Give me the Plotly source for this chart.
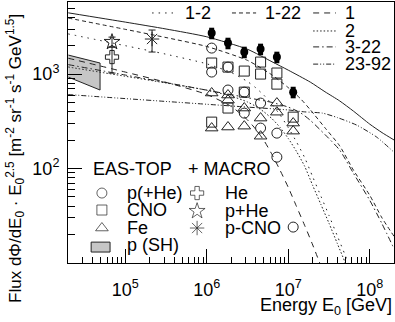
import plotly.graph_objects as go

# model curves (log10 E/GeV, flux * E^2.5)
lg_e_p = [4.3, 5.0, 5.5, 6.0, 6.3, 6.5, 6.6, 6.7, 6.8, 6.9, 7.0, 7.1, 7.2, 7.3, 7.4]
flux_p = [1472, 1050, 818, 608, 454, 327, 261, 199, 141, 95.5, 63.1, 39.8, 25.1, 15.5, 9.3]

lg_e_he = [4.3, 5.0, 5.5, 6.0, 6.3, 6.5, 6.6, 6.7, 6.8, 6.9, 7.0, 7.1, 7.2, 7.3, 7.4, 7.5, 7.6, 7.7, 7.8]
flux_he = [1189, 948, 805, 675, 585, 506, 456, 399, 337, 272, 208, 152, 106, 66, 41.7, 26.3, 16.2, 10, 6]

lg_e_12 = [4.3, 5.0, 5.5, 6.0, 6.3, 6.5, 6.6, 6.7, 6.8, 6.9, 7.0, 7.1, 7.2, 7.3, 7.4, 7.5, 7.6, 7.7, 7.8]
flux_12 = [2661, 1998, 1623, 1283, 1039, 833, 717, 598, 478, 368, 271, 192, 131, 81.5, 51, 31.8, 19.5, 12, 7.2]

lg_e_322 = [4.3, 5.0, 5.5, 6.0, 6.5, 6.8, 7.0, 7.15, 7.27, 7.45, 7.63, 7.8, 8.0, 8.15, 8.3]
flux_322 = [1259, 977, 813, 676, 562, 501, 447, 389, 324, 229, 157, 89, 46, 26, 14]

lg_e_122 = [4.3, 5.0, 5.5, 6.0, 6.5, 6.8, 7.0, 7.15, 7.27, 7.45, 7.63, 7.8, 8.0, 8.15, 8.3]
flux_122 = [3920, 2975, 2436, 1959, 1395, 979, 718, 549, 419, 270, 174, 96, 52, 30, 19]

lg_e_2392 = [4.3, 5.0, 5.5, 6.0, 6.5, 7.0, 7.2, 7.42, 7.6, 7.84, 8.085, 8.3]
flux_2392 = [607, 550, 513, 479, 447, 417, 398, 386, 347, 288, 215, 148]

lg_e_all = [4.3, 5.0, 5.5, 6.0, 6.5, 6.8, 7.0, 7.27, 7.45, 7.63, 7.8, 8.0, 8.15, 8.3]
flux_all = [4450, 3550, 3000, 2480, 1830, 1350, 1100, 822, 650, 520, 405, 295, 240, 200]

# EAS-TOP points
lg_e_eas = [6.06, 6.26, 6.46, 6.66, 6.86, 7.06]
eas_all = [2716, 2128, 1710, 1841, 1514, 644]
eas_p_e = [6.06, 6.06, 6.26, 6.26, 6.46, 6.46, 6.66, 6.66, 6.86, 6.86, 7.06]
eas_p = [1884, 1050, 1186, 678, 644, 386, 493, 268, 237, 132, 24]
eas_cno_e = [6.06, 6.06, 6.26, 6.26, 6.46, 6.46, 6.66, 6.66, 6.86, 6.86, 7.06]
eas_cno = [1309, 310, 1186, 437, 1076, 644, 1340, 1000, 1026, 783, 350]
eas_fe_e = [6.06, 6.06, 6.26, 6.26, 6.26, 6.46, 6.46, 6.66, 6.66, 6.86, 6.86, 7.06, 7.06]
eas_fe = [630, 268, 600, 531, 275, 437, 281, 342, 220, 493, 395, 303, 249]

# MACRO points
macro_he_e, macro_he, macro_he_up, macro_he_dn = 6.87e4, 1514, 418, 490
macro_phe_e, macro_phe, macro_phe_up, macro_phe_dn = 6.87e4, 2183, 280, 251
macro_pcno_e, macro_pcno, macro_pcno_up, macro_pcno_dn = 2.13e5, 2350, 577, 639

# p (SH) band
band_e = [2.0e4, 4.9e4, 4.9e4, 2.0e4]
band_flux = [1589, 1309, 678, 929]

FONT = "Liberation Sans, Arial, sans-serif"
INK = "#222"

fig = go.Figure()

fig.add_trace(go.Scatter(x=band_e, y=band_flux, fill="toself", fillcolor="#c6c6c6",
                         mode="lines", line=dict(color=INK, width=1)))

curves = [
    (lg_e_all, flux_all, "solid"),
    (lg_e_12, flux_12, "1.5px,5px"),
    (lg_e_122, flux_122, "4px,3px"),
    (lg_e_p, flux_p, "6px,5px"),
    (lg_e_he, flux_he, "1.5px,2px"),
    (lg_e_322, flux_322, "6px,3px,1.5px,3px"),
    (lg_e_2392, flux_2392, "5px,2px,1px,2px,1px,2px"),
]
for lg, fl, dash in curves:
    fig.add_trace(go.Scatter(x=[10 ** v for v in lg], y=fl, mode="lines",
                             line=dict(color=INK, width=1, dash=dash, shape="spline", smoothing=0.6)))

fig.add_trace(go.Scatter(x=[10 ** v for v in lg_e_eas], y=eas_all, mode="markers",
                         marker=dict(symbol="circle", size=8, color="black"),
                         error_y=dict(type="percent", value=14, thickness=5, width=0, color="black")))
for lg, fl, sym, sz in [(eas_p_e, eas_p, "circle-open", 10),
                        (eas_cno_e, eas_cno, "square-open", 10),
                        (eas_fe_e, eas_fe, "triangle-up-open", 11)]:
    fig.add_trace(go.Scatter(x=[10 ** v for v in lg], y=fl, mode="markers",
                             marker=dict(symbol=sym, size=sz, color=INK, line=dict(width=1))))

for e, f, up, dn, sym, sz in [(macro_he_e, macro_he, macro_he_up, macro_he_dn, "cross-open", 11),
                              (macro_phe_e, macro_phe, macro_phe_up, macro_phe_dn, "star-open", 12),
                              (macro_pcno_e, macro_pcno, macro_pcno_up, macro_pcno_dn, "asterisk-open", 12)]:
    fig.add_trace(go.Scatter(x=[e], y=[f], mode="markers",
                             marker=dict(symbol=sym, size=sz, color=INK, line=dict(width=1)),
                             error_y=dict(type="data", array=[up], arrayminus=[dn],
                                          thickness=1, width=3.5, color=INK)))

# legend keys on an overlay axis in plot fractions
fig.add_trace(go.Scatter(x=[0.104, 0.104, 0.104, 0.396, 0.396, 0.396],
                         y=[0.268, 0.203, 0.134, 0.268, 0.199, 0.134],
                         xaxis="x2", yaxis="y2", mode="markers",
                         marker=dict(symbol=["circle-open", "square-open", "triangle-up-open",
                                             "cross-open", "star-open", "asterisk-open"],
                                     size=[10, 10, 11, 11, 12, 12], color=INK, line=dict(width=1))))

shapes = [dict(type="rect", xref="paper", yref="paper", x0=0.071, x1=0.129, y0=0.042, y1=0.080,
               fillcolor="#c6c6c6", line=dict(color=INK, width=1))]
line_keys = [(0.258, 0.322, 0.958, "1.5px,5px"), (0.503, 0.577, 0.958, "4px,3px"),
             (0.752, 0.822, 0.958, "6px,5px"), (0.752, 0.822, 0.889, "1.5px,2px"),
             (0.752, 0.822, 0.828, "6px,3px,1.5px,3px"), (0.752, 0.822, 0.762, "5px,2px,1px,2px,1px,2px")]
for x0, x1, y, dash in line_keys:
    shapes.append(dict(type="line", xref="paper", yref="paper", x0=x0, x1=x1, y0=y, y1=y,
                       line=dict(color=INK, width=1, dash=dash)))

labels = [(0.359, 0.958, "1-2"), (0.604, 0.958, "1-22"), (0.850, 0.958, "1"), (0.850, 0.889, "2"),
          (0.850, 0.828, "3-22"), (0.850, 0.762, "23-92"),
          (0.077, 0.360, "EAS-TOP"), (0.181, 0.268, "p(+He)"), (0.181, 0.203, "CNO"),
          (0.181, 0.134, "Fe"), (0.181, 0.069, "p (SH)"), (0.368, 0.360, "+ MACRO"),
          (0.482, 0.268, "He"), (0.482, 0.199, "p+He"), (0.482, 0.134, "p-CNO")]
annotations = [dict(x=x, y=y, xref="paper", yref="paper", text=t, showarrow=False,
                    xanchor="left", yanchor="middle", xshift=-2, font=dict(size=18, color="black"))
               for x, y, t in labels]
annotations.append(dict(x=1.0, y=-0.165, xref="paper", yref="paper", showarrow=False,
                        text="Energy E<sub>0</sub> [GeV]", xanchor="right", yanchor="middle",
                        font=dict(size=18, color="black")))
annotations.append(dict(x=-0.163, y=0.402, xref="paper", yref="paper", showarrow=False, textangle=-90,
                        text="Flux dΦ/dE<sub>0</sub> · E<sub>0</sub><sup>2.5</sup> [m<sup>-2</sup> sr<sup>-1</sup> s<sup>-1</sup> GeV<sup>1.5</sup>]",
                        xanchor="center", yanchor="middle", font=dict(size=17, color="black")))

x_minor = [m * 10 ** k for k in range(4, 9) for m in range(2, 10) if 2e4 <= m * 10 ** k <= 1.98e8]
y_minor = [m * 10 ** k for k in range(1, 4) for m in range(2, 10) if m * 10 ** k <= 5800]

fig.update_layout(
    template="none",
    width=395, height=322, showlegend=False,
    margin=dict(l=68, r=1, t=2, b=59, autoexpand=False),
    paper_bgcolor="white", plot_bgcolor="white",
    font=dict(family=FONT, color="black"),
    shapes=shapes, annotations=annotations,
    xaxis=dict(type="log", range=[4.297, 8.297], showgrid=False, zeroline=False, automargin=False,
               showline=True, linecolor="black", linewidth=1, mirror=True,
               ticks="inside", ticklen=14, tickcolor="black",
               tickvals=[1e5, 1e6, 1e7, 1e8],
               ticktext=["10<sup>5</sup>", "10<sup>6</sup>", "10<sup>7</sup>", "10<sup>8</sup>"],
               tickfont=dict(size=18), ticklabelstandoff=10,
               minor=dict(tickvals=x_minor, ticks="inside", ticklen=6, tickcolor="black")),
    yaxis=dict(type="log", range=[1, 3.763], showgrid=False, zeroline=False, automargin=False,
               showline=True, linecolor="black", linewidth=1, mirror=True,
               ticks="inside", ticklen=14, tickcolor="black",
               tickvals=[100, 1000], ticktext=["10<sup>2</sup>", "10<sup>3</sup>"],
               tickfont=dict(size=18), ticklabelstandoff=4,
               minor=dict(tickvals=y_minor, ticks="inside", ticklen=7, tickcolor="black")),
    xaxis2=dict(overlaying="x", anchor="y2", range=[0, 1], visible=False),
    yaxis2=dict(overlaying="y", anchor="x2", range=[0, 1], visible=False),
)

# the page body has a default 8px margin; drop it so the figure sits at the window corner
fig.write_html("out.html", config={"displayModeBar": False},
               post_script="document.body.style.margin='0';")
